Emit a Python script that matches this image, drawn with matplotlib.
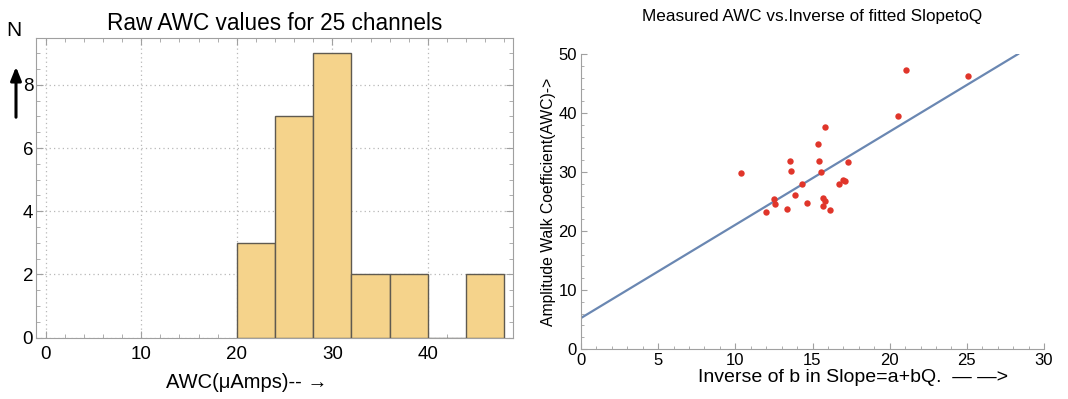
import matplotlib
matplotlib.use("Agg")
import matplotlib.pyplot as plt
import numpy as np
from matplotlib.ticker import MultipleLocator

plt.rcParams["font.family"] = ["Liberation Sans", "DejaVu Sans"]

# histogram of raw AWC values (bin edges, counts)
bin_edges = [20, 24, 28, 32, 36, 40, 44, 48]
counts = [3, 7, 9, 2, 2, 0, 2]

# measured AWC vs inverse of fitted slope
inv_b = [10.38, 11.96, 12.52, 12.58, 13.36, 13.51, 13.58, 13.88, 14.31, 14.66,
         15.35, 15.39, 15.54, 15.67, 15.80, 15.67, 15.80, 16.12, 16.71, 16.97,
         17.12, 17.29, 20.53, 21.09, 25.06]
awc = [29.8, 23.3, 25.45, 24.55, 23.7, 31.9, 30.2, 26.1, 27.9, 24.8,
       34.8, 31.9, 30.0, 25.6, 25.1, 24.3, 37.7, 23.6, 28.0, 28.7,
       28.4, 31.7, 39.5, 47.3, 46.2]
fit_intercept = 5.25
fit_slope = 1.58

W, H = 1068, 399
fig = plt.figure(figsize=(W / 100, H / 100), dpi=100)


def box(x0, y0, x1, y1):
    # pixel box -> figure fraction
    return [x0 / W, 1 - y1 / H, (x1 - x0) / W, (y1 - y0) / H]


frame_col = "#a0a0a0"

# ---------------- left: histogram ----------------
ax1 = fig.add_axes(box(36, 38.3, 513, 337.7))
widths = np.diff(bin_edges)
ax1.bar(bin_edges[:-1], counts, width=widths, align="edge",
        color="#f5d38b", edgecolor="#5f5a50", linewidth=1.0, zorder=3)
ax1.set_xlim(-1.0, 48.9)
ax1.set_ylim(0, 9.47)
ax1.xaxis.set_major_locator(MultipleLocator(10))
ax1.xaxis.set_minor_locator(MultipleLocator(2))
ax1.yaxis.set_major_locator(MultipleLocator(2))
ax1.yaxis.set_minor_locator(MultipleLocator(0.5))
ax1.grid(True, which="major", linestyle=(0, (1, 2.5)), color="#b8b8b8", linewidth=0.9, zorder=0)
for s in ax1.spines.values():
    s.set_color(frame_col)
ax1.tick_params(which="both", direction="in", top=True, right=True, color=frame_col,
                labelsize=13.5)
ax1.tick_params(axis="x", pad=6)
ax1.tick_params(axis="y", pad=2)
ax1.tick_params(which="major", length=5)
ax1.tick_params(which="minor", length=3)

fig.text(275 / W, 1 - 24 / H, "Raw AWC values for 25 channels", ha="center", va="center", fontsize=16.3)
fig.text(14 / W, 1 - 30 / H, "N", ha="center", va="center", fontsize=15)
fig.text(247 / W, 1 - 383 / H, "AWC(\u03bcAmps)-- \u2192", ha="center", va="center", fontsize=14.5)
fig.patches.append(matplotlib.patches.FancyArrowPatch(
    (16 / W, 1 - 120 / H), (16 / W, 1 - 64 / H), transform=fig.transFigure,
    arrowstyle="-|>,head_length=5,head_width=2", mutation_scale=1.6,
    color="black", linewidth=2.2))

# ---------------- right: scatter + fit ----------------
ax2 = fig.add_axes(box(581, 54, 1044, 349))
xs = np.array([0, (50 - fit_intercept) / fit_slope])
ax2.plot(xs, fit_intercept + fit_slope * xs, color="#6a87b2", linewidth=1.6, zorder=2)
ax2.plot(inv_b, awc, "o", color="#e0352a", markersize=4.6, markeredgewidth=0, zorder=3)
ax2.set_xlim(0, 30)
ax2.set_ylim(0, 50)
ax2.xaxis.set_major_locator(MultipleLocator(5))
ax2.xaxis.set_minor_locator(MultipleLocator(1))
ax2.yaxis.set_major_locator(MultipleLocator(10))
ax2.yaxis.set_minor_locator(MultipleLocator(2))
ax2.spines["top"].set_visible(False)
ax2.spines["right"].set_visible(False)
for s in ("left", "bottom"):
    ax2.spines[s].set_color(frame_col)
ax2.tick_params(which="both", direction="in", color=frame_col, labelsize=12, pad=3)
ax2.tick_params(which="major", length=4)
ax2.tick_params(which="minor", length=2)

fig.text(812 / W, 1 - 17 / H, "Measured AWC vs.Inverse of fitted SlopetoQ", ha="center", va="center", fontsize=12.3)
fig.text(549 / W, 1 - 202 / H, "Amplitude Walk Coefficient(AWC)->", ha="center", va="center",
         rotation=90, fontsize=11.3)
fig.text(853 / W, 1 - 378 / H, "Inverse of b in Slope=a+bQ.  \u2014 \u2014>", ha="center", va="center", fontsize=14)

fig.savefig("out.png", dpi=100)
